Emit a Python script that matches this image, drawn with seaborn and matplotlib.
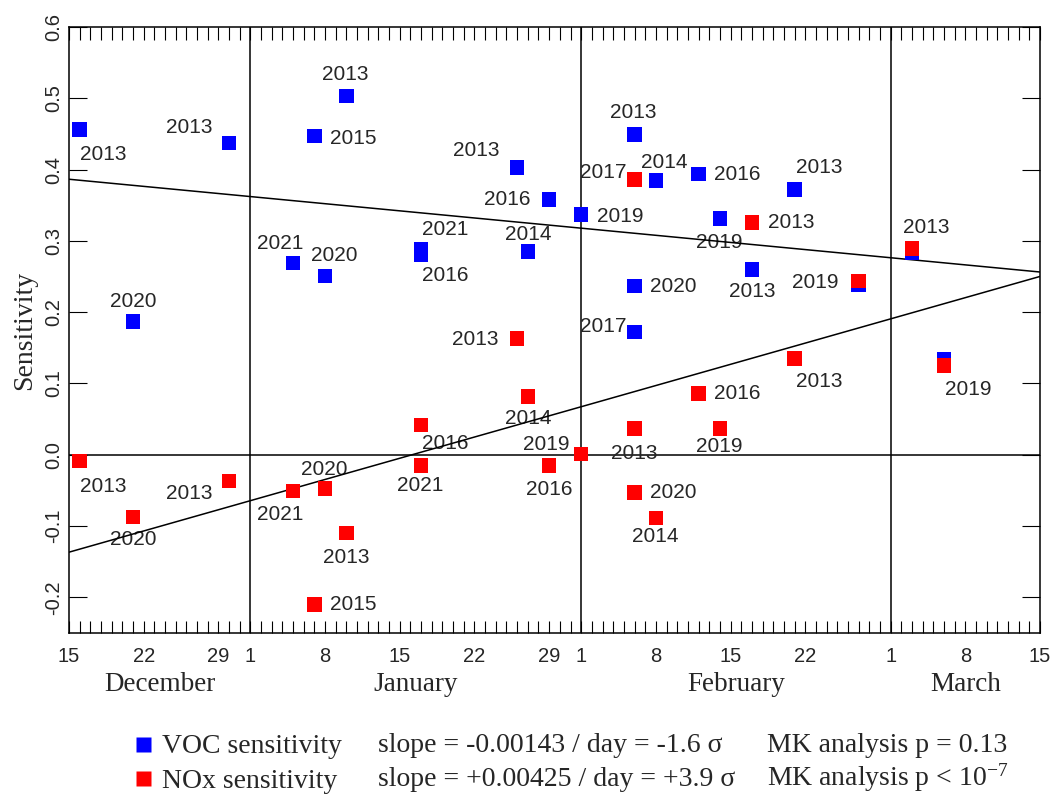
import numpy as np
import pandas as pd
import matplotlib
matplotlib.use("Agg")
import matplotlib.pyplot as plt
import matplotlib.transforms as mtransforms
from matplotlib.lines import Line2D
from matplotlib.ticker import MultipleLocator
import seaborn as sns

# ---- data -------------------------------------------------------------
# Observation dates (month-day) inside the Dec 15 - Mar 15 window
obs_dates = ["12-16", "12-21", "12-30", "01-05", "01-07", "01-08", "01-10",
             "01-17", "01-17", "01-26", "01-27", "01-29", "02-01", "02-06",
             "02-06", "02-06", "02-08", "02-12", "02-14", "02-17", "02-21",
             "02-27", "03-03", "03-06"]
obs_years = [2013, 2020, 2013, 2021, 2015, 2020, 2013, 2021, 2016, 2013,
             2014, 2016, 2019, 2013, 2017, 2020, 2014, 2016, 2019, 2013,
             2013, 2019, 2013, 2019]
voc_sens = [0.456, 0.187, 0.437, 0.269, 0.447, 0.251, 0.503, 0.288, 0.281,
            0.403, 0.285, 0.358, 0.337, 0.449, 0.172, 0.237, 0.385, 0.394,
            0.331, 0.260, 0.372, 0.238, 0.284, 0.134]
nox_sens = [-0.009, -0.087, -0.037, -0.051, -0.210, -0.047, -0.110, -0.015,
            0.042, 0.163, 0.082, -0.015, 0.001, 0.037, 0.386, -0.053, -0.089,
            0.086, 0.037, 0.326, 0.135, 0.244, 0.289, 0.125]

# Trend statistics
voc_slope, voc_sigma, voc_mk = -0.00143, "-1.6", "p = 0.13"
nox_slope, nox_sigma, nox_mk = 0.00425, "+3.9", r"p < 10$^{-7}$"

# Axis labelling
tick_dates = ["12-15", "12-22", "12-29", "01-01", "01-08", "01-15", "01-22",
              "01-29", "02-01", "02-08", "02-15", "02-22", "03-01", "03-08",
              "03-15"]
month_starts = ["12-15", "01-01", "02-01", "03-01", "03-15"]
month_names = ["December", "January", "February", "March"]
y_ticks = [-0.2, -0.1, 0.0, 0.1, 0.2, 0.3, 0.4, 0.5, 0.6]

# Year-label placement (pixel offsets from each marker; None = no label)
voc_label_offsets = [(24, -25), (0, 20), (-40, 16), (-13, 19), (39, -2),
                     (9, 20), (-1, 22), (24, 20), (24, -21), (-41, 17),
                     (0, 17), (-42, 0), (39, -2), (-1, 22), (-31, 6),
                     (39, -1), (8, 18), (39, -1), (-1, -24), (0, -22),
                     (25, 22), None, None, None]
nox_label_offsets = [(24, -25), (0, -23), (-40, -12), (-13, -23), (39, 0),
                     (-1, 19), (0, -24), (-1, -20), (24, -19), (-42, -1),
                     (0, -22), (0, -24), (-35, 10), (0, -25), (-31, 7),
                     (39, 0), (-1, -18), (39, 0), (-1, -18), (39, 0),
                     (25, -23), (-43, -2), (14, 21), (24, -24)]

# ---- helpers ----------------------------------------------------------
season_start = pd.Timestamp("2019-12-15")


def season_day(md):
    m, d = (int(p) for p in md.split("-"))
    year = 2019 if m == 12 else 2020
    return (pd.Timestamp(year=year, month=m, day=d) - season_start).days


days = np.array([season_day(s) for s in obs_dates])
tick_days = [season_day(s) for s in tick_dates]
tick_labels = [str(int(s.split("-")[1])) for s in tick_dates]
bounds = [season_day(s) for s in month_starts]
span = bounds[-1]

# ---- style ------------------------------------------------------------
sns.set_style("white")
plt.rcParams["font.family"] = ["Liberation Sans", "DejaVu Sans"]
plt.rcParams["mathtext.fontset"] = "custom"
plt.rcParams["mathtext.rm"] = "Liberation Serif"
plt.rcParams["mathtext.it"] = "Liberation Serif:italic"
plt.rcParams["mathtext.bf"] = "Liberation Serif:bold"
SERIF = ["Liberation Serif", "DejaVu Serif"]
BLUE, RED = "#0000ff", "#ff0000"

W, H = 1051, 794
fig = plt.figure(figsize=(W / 100, H / 100), dpi=100)
ax = fig.add_axes([69 / W, 161 / H, 971 / W, 606 / H])

# reference lines: zero line and month boundaries
ax.axhline(0, color="black", lw=1.1, zorder=2)
for b in bounds[1:-1]:
    ax.axvline(b, color="black", lw=1.1, zorder=2)

# linear trends through the centroid of each series
xline = np.array([0, span], dtype=float)
for vals, slope in ((voc_sens, voc_slope), (nox_sens, nox_slope)):
    icpt = np.mean(vals) - slope * days.mean()
    sns.lineplot(x=xline, y=icpt + slope * xline, color="black", lw=1.1,
                 ax=ax, zorder=3)

# sensitivity markers
df = pd.DataFrame({
    "day": np.r_[days, days],
    "sens": np.r_[voc_sens, nox_sens],
    "kind": ["VOC"] * len(days) + ["NOx"] * len(days),
})
sns.scatterplot(data=df, x="day", y="sens", hue="kind",
                palette={"VOC": BLUE, "NOx": RED}, marker="s", s=110,
                linewidth=0, legend=False, ax=ax, zorder=4)

# year annotations
for vals, offsets in ((voc_sens, voc_label_offsets),
                      (nox_sens, nox_label_offsets)):
    for d, v, yr, off in zip(days, vals, obs_years, offsets):
        if off is None:
            continue
        ax.annotate(str(yr), (d, v), xytext=off, textcoords="offset pixels",
                    ha="center", va="center", fontsize=15, zorder=2)

# axes, ticks
ax.set_xlim(0, span)
ax.set_ylim(-0.25, 0.6)
ax.set_xlabel("")
ax.set_ylabel("")
ax.set_xticks(tick_days)
ax.set_xticklabels(tick_labels)
ax.xaxis.set_minor_locator(MultipleLocator(1))
ax.tick_params(axis="x", which="both", direction="in", top=True,
               bottom=True, length=9, width=0.8, color="black")
ax.tick_params(axis="x", which="major", pad=10, labelsize=14.5)
ax.set_yticks(y_ticks)
ax.set_yticklabels([f"{v:.1f}" for v in y_ticks], rotation=90, va="center")
ax.tick_params(axis="y", which="major", direction="in", left=True,
               right=True, length=13, width=0.8, pad=4, labelsize=14.5,
               color="black")
for sp in ax.spines.values():
    sp.set_visible(True)
    sp.set_color("black")
    sp.set_linewidth(1.1)

ax.set_ylabel("Sensitivity", fontsize=20, family=SERIF)
ax.yaxis.set_label_coords(-0.033, 0.5)

# month names centred under each month segment
trans = mtransforms.blended_transform_factory(ax.transData, ax.transAxes)
for name, a, b in zip(month_names, bounds[:-1], bounds[1:]):
    ax.text((a + b) / 2, -0.095, name, transform=trans, ha="center",
            va="baseline", fontsize=19.5, family=SERIF)

# legend with trend statistics
handles = [Line2D([], [], marker="s", ls="none", ms=10.8, mec="none", mfc=c)
           for c in (BLUE, RED)]
fig.legend(handles, ["VOC sensitivity", "NOx sensitivity"], loc="upper left",
           bbox_to_anchor=(135 / W, 1 - 734 / H), frameon=False,
           borderpad=0, borderaxespad=0, handlelength=0.6,
           handletextpad=0.37, labelspacing=0.31,
           prop={"family": SERIF, "size": 20})
for base, slope, sig, mk in ((752, voc_slope, voc_sigma, voc_mk),
                             (786, nox_slope, nox_sigma, nox_mk)):
    fig.text(378 / W, 1 - base / H, f"slope = {slope:+.5f} / day = {sig} \u03c3",
             va="baseline", ha="left", fontsize=20, family=SERIF)
    fig.text(767 / W, 1 - base / H, f"MK analysis {mk}",
             va="baseline", ha="left", fontsize=20, family=SERIF)

fig.savefig("out.png", dpi=100)
